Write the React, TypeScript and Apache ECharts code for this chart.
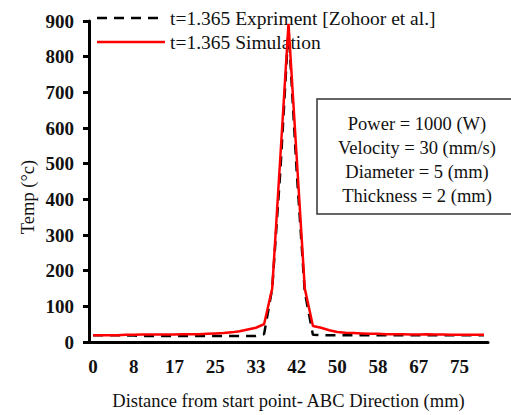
import React, { useEffect, useRef } from "react";
import * as echarts from "echarts";

const categories = ["0","2","3","5","7","8","10","12","13","15","17","18","20","22","23","25","27","28","30","32","33","35","37","38","40","42","43","45","47","48","50","52","53","55","57","58","60","62","63","65","67","68","70","72","73","75","77","78","80"];

const experiment = [19,19,19,19,18,18,17,17,17,17,17,17,17,17,17,17,17,17,17,17,17,22,150,480,880,480,140,20,19,19,19,19,19,19,19,19,19,19,19,19,19,19,19,19,19,19,19,19,19];

const simulation = [19,19,19,19,20,20,21,21,21,21,21,22,22,22,23,24,25,27,30,35,40,50,150,520,892,520,150,45,40,33,28,26,25,24,23,23,22,22,22,21,21,22,21,21,20,20,20,20,20];

const seriesNames = ["t=1.365 Expriment [Zohoor et al.]", "t=1.365 Simulation"];

const infoLines = ["Power = 1000 (W)", "Velocity = 30 (mm/s)", "Diameter = 5 (mm)", "Thickness = 2 (mm)"];

const FONT = "Liberation Serif";
const BLACK_DASH = [10, 7];
const RED = "#ff0000";

export default function App() {
  const ref = useRef<HTMLDivElement>(null);
  useEffect(() => {
    if (!ref.current) return;
    const chart = echarts.init(ref.current, null, { renderer: "svg" });
    chart.setOption({
      animation: false,
      backgroundColor: "#ffffff",
      textStyle: { fontFamily: FONT },
      grid: { left: 89, right: 23, top: 21, bottom: 72 },
      legend: { show: false, data: seriesNames },
      xAxis: {
        type: "category",
        data: categories,
        boundaryGap: true,
        name: "Distance from start point- ABC Direction (mm)",
        nameLocation: "middle",
        nameGap: 49,
        nameTextStyle: { fontFamily: FONT, fontSize: 18.5, color: "#111" },
        axisLine: { lineStyle: { color: "#000", width: 3 } },
        axisTick: { interval: 0, length: 5, lineStyle: { color: "#000", width: 2 } },
        axisLabel: { interval: 4, margin: 15, fontFamily: FONT, fontSize: 19, fontWeight: "bold", color: "#111" },
        splitLine: { show: false },
      },
      yAxis: {
        type: "value",
        min: 0,
        max: 900,
        interval: 100,
        axisLine: { show: true, lineStyle: { color: "#000", width: 3 } },
        axisTick: { show: true, length: 6, lineStyle: { color: "#000", width: 3 } },
        axisLabel: { margin: 15, fontFamily: FONT, fontSize: 19, fontWeight: "bold", color: "#111" },
        splitLine: { show: false },
      },
      series: [
        {
          name: seriesNames[0],
          type: "line",
          data: experiment,
          symbol: "none",
          lineStyle: { color: "#000", width: 2.5, type: BLACK_DASH },
          itemStyle: { color: "#000" },
          z: 2,
        },
        {
          name: seriesNames[1],
          type: "line",
          data: simulation,
          symbol: "none",
          lineStyle: { color: RED, width: 2.5 },
          itemStyle: { color: RED },
          z: 3,
        },
      ],
      graphic: [
        {
          type: "line",
          shape: { x1: 97, y1: 18, x2: 162, y2: 18 },
          style: { stroke: "#000", lineWidth: 2.5, lineDash: BLACK_DASH },
        },
        {
          type: "text",
          x: 170,
          y: 18,
          style: {
            text: seriesNames[0],
            fontFamily: FONT,
            fontSize: 19.5,
            fill: "#111",
            textAlign: "left",
            textVerticalAlign: "middle",
          },
        },
        {
          type: "line",
          shape: { x1: 97, y1: 42, x2: 165, y2: 42 },
          style: { stroke: RED, lineWidth: 2.5 },
        },
        {
          type: "text",
          x: 170,
          y: 42,
          style: {
            text: seriesNames[1],
            fontFamily: FONT,
            fontSize: 19.5,
            fill: "#111",
            textAlign: "left",
            textVerticalAlign: "middle",
          },
        },
        {
          type: "text",
          x: 28,
          y: 197,
          rotation: Math.PI / 2,
          style: {
            text: "Temp (°c)",
            fontFamily: FONT,
            fontSize: 18.5,
            fill: "#111",
            textAlign: "center",
            textVerticalAlign: "middle",
          },
        },
        {
          type: "rect",
          shape: { x: 317, y: 99, width: 200, height: 115 },
          style: { fill: "#fff", stroke: "#333", lineWidth: 1.5 },
          z: 10,
        },
        ...infoLines.map((t, i) => ({
          type: "text",
          x: 417,
          y: 124 + i * 24,
          z: 11,
          style: {
            text: t,
            fontFamily: FONT,
            fontSize: 18.5,
            fill: "#111",
            textAlign: "center",
            textVerticalAlign: "middle",
          },
        })),
      ],
    });
    return () => chart.dispose();
  }, []);
  return <div ref={ref} style={{ position: "fixed", left: 0, top: 0, width: 511, height: 415 }} />;
}
